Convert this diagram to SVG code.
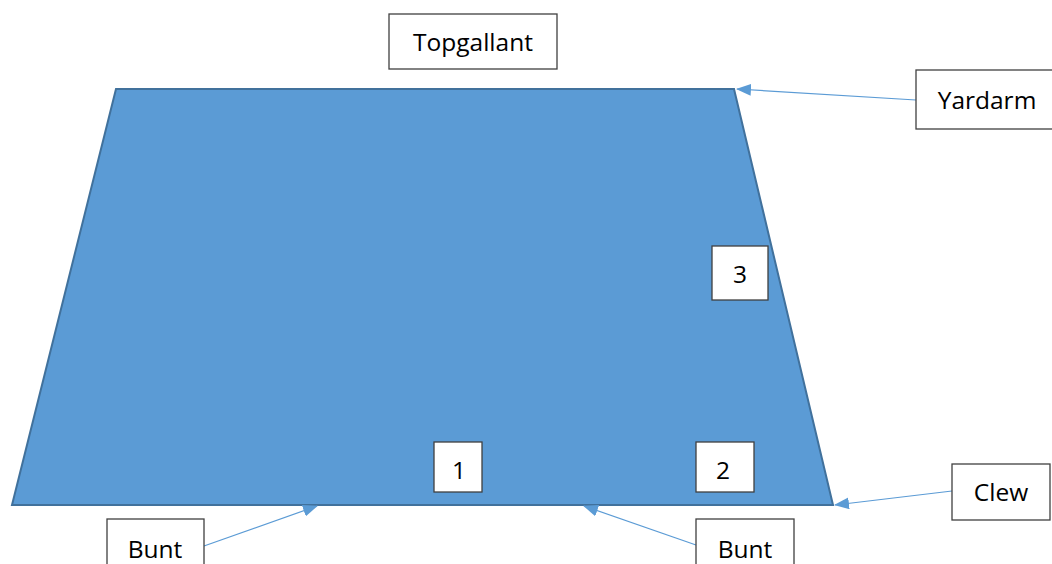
<svg xmlns="http://www.w3.org/2000/svg" width="1052" height="564" viewBox="0 0 1052 564">
<defs>
<marker id="ah" markerWidth="15" markerHeight="12" refX="14" refY="6" orient="auto" markerUnits="userSpaceOnUse">
<path d="M0,0 L15,6 L0,12 Z" fill="#5B9BD5"/>
</marker>
<style>
.box{fill:#fff;stroke:#404040;stroke-width:1.3}
.t{font-family:"Open Sans","Liberation Sans",sans-serif;font-size:24.5px;fill:#000;text-anchor:middle}
.c{stroke:#5B9BD5;stroke-width:1.2;fill:none;marker-end:url(#ah)}
</style>
</defs>
<rect width="1052" height="564" fill="#fff"/>
<g id="sail"><polygon points="116,89 734,89 833,505 12,505" fill="#5B9BD5" stroke="#41719C" stroke-width="2"/></g>
<g id="connectors">
<line class="c" x1="916" y1="100" x2="737" y2="89"/>
<line class="c" x1="952" y1="491" x2="835" y2="505"/>
<line class="c" x1="204" y1="546" x2="317" y2="506"/>
<line class="c" x1="696" y1="545" x2="584" y2="506"/>
</g>
<g id="topgallant"><rect class="box" x="389" y="14" width="168" height="55"/><text class="t" x="473" y="51">Topgallant</text></g>
<g id="yardarm"><rect class="box" x="916" y="70" width="140" height="59"/><text class="t" x="987" y="109">Yardarm</text></g>
<g id="n3"><rect class="box" x="712" y="246" width="56" height="54"/><text class="t" x="740" y="283">3</text></g>
<g id="n1"><rect class="box" x="434" y="442" width="48" height="50"/><text class="t" x="459" y="479">1</text></g>
<g id="n2"><rect class="box" x="696" y="442" width="58" height="50"/><text class="t" x="723" y="479">2</text></g>
<g id="clew"><rect class="box" x="952" y="464" width="98" height="56"/><text class="t" x="1001" y="501">Clew</text></g>
<g id="bunt1"><rect class="box" x="107" y="519" width="97" height="60"/><text class="t" x="155" y="558">Bunt</text></g>
<g id="bunt2"><rect class="box" x="696" y="519" width="98" height="60"/><text class="t" x="745" y="558">Bunt</text></g>
</svg>
